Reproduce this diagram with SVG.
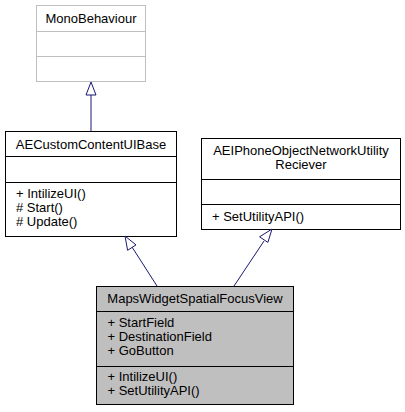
<svg xmlns="http://www.w3.org/2000/svg" width="405" height="412" viewBox="0 0 405 412">
<style>
text{font-family:"Liberation Sans",Arial,sans-serif;font-size:13px;fill:#000}
.box{fill:#fff;stroke:#000;stroke-width:1}
.gbox{fill:#fff;stroke:#bfbfbf;stroke-width:1}
.sel{fill:#bfbfbf;stroke:#000;stroke-width:1}
.edge{stroke:#191970;stroke-width:1;fill:none}
.head{fill:#fff;stroke:#191970;stroke-width:1}
</style>
<rect width="405" height="412" fill="#fff"/>
<g id="MonoBehaviour">
<rect class="gbox" x="36.5" y="5.5" width="109" height="76"/>
<line class="gbox" x1="36.5" y1="31.5" x2="145.5" y2="31.5"/>
<line class="gbox" x1="36.5" y1="56.5" x2="145.5" y2="56.5"/>
<text x="91" y="22.5" text-anchor="middle">MonoBehaviour</text>
</g>
<g id="AECustomContentUIBase">
<rect class="box" x="5.5" y="131.5" width="171" height="105"/>
<line class="box" x1="5.5" y1="156.5" x2="176.5" y2="156.5"/>
<line class="box" x1="5.5" y1="182.5" x2="176.5" y2="182.5"/>
<text x="91" y="148.5" text-anchor="middle">AECustomContentUIBase</text>
<text x="16" y="197.5">+ IntilizeUI()</text>
<text x="16" y="211.5"># Start()</text>
<text x="16" y="225.5"># Update()</text>
</g>
<g id="AEIPhoneObjectNetworkUtilityReciever">
<rect class="box" x="201.5" y="138.5" width="199" height="91"/>
<line class="box" x1="201.5" y1="179.5" x2="400.5" y2="179.5"/>
<line class="box" x1="201.5" y1="204.5" x2="400.5" y2="204.5"/>
<text x="301" y="154.5" text-anchor="middle">AEIPhoneObjectNetworkUtility</text>
<text x="301" y="168.5" text-anchor="middle">Reciever</text>
<text x="212" y="221">+ SetUtilityAPI()</text>
</g>
<g id="MapsWidgetSpatialFocusView">
<rect class="sel" x="96.5" y="286.5" width="197" height="118"/>
<line class="box" x1="96.5" y1="311.5" x2="293.5" y2="311.5"/>
<line class="box" x1="96.5" y1="366.5" x2="293.5" y2="366.5"/>
<text x="195" y="303" text-anchor="middle">MapsWidgetSpatialFocusView</text>
<text x="107.5" y="327">+ StartField</text>
<text x="107.5" y="341">+ DestinationField</text>
<text x="107.5" y="355">+ GoButton</text>
<text x="107.5" y="381">+ IntilizeUI()</text>
<text x="107.5" y="395">+ SetUtilityAPI()</text>
</g>
<g id="connectors">
<line class="edge" x1="91" y1="95" x2="91" y2="131"/>
<polygon class="head" points="91,82 86,95 96,95"/>
<line class="edge" x1="157" y1="286" x2="132" y2="247"/>
<polygon class="head" points="125,236 127.6,250.3 136.0,244.9"/>
<line class="edge" x1="234" y1="286" x2="264" y2="241"/>
<polygon class="head" points="272,229 259.6,236.8 267.9,242.4"/>
</g>
</svg>
